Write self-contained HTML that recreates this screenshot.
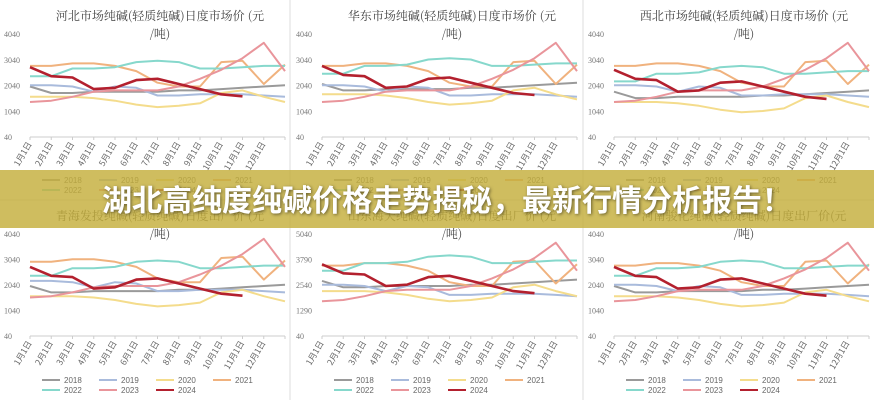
<!DOCTYPE html><html><head><meta charset="utf-8"><style>
body{margin:0;background:#fff;width:874px;height:400px;overflow:hidden;position:relative;font-family:"Liberation Sans","Noto Sans CJK SC",sans-serif}
svg{position:absolute;left:0;top:0}
#ban{position:absolute;left:0;top:170px;width:874px;height:58px;background:rgba(196,174,60,0.82);}
#bt{position:absolute;left:0;top:176px;width:874px;text-align:center;color:#fff;font-size:30px;font-weight:bold;font-family:"Noto Sans CJK SC",sans-serif;text-shadow:1px 1px 3px rgba(0,0,0,.5);letter-spacing:0px;padding-left:20px;box-sizing:border-box}
</style></head><body>
<svg id="s" width="874" height="400" xmlns="http://www.w3.org/2000/svg"></svg>
<div id="ban"></div><div id="bt">湖北高纯度纯碱价格走势揭秘，最新行情分析报告！</div>
<script>
var S=document.getElementById('s'),h='';
var titles=[["河北市场纯碱(轻质纯碱)日度市场价 (元","/吨)"],["华东市场纯碱(轻质纯碱)日度市场价 (元","/吨)"],["西北市场纯碱(轻质纯碱)日度市场价 (元","/吨)"],["青海发投纯碱(轻质纯碱)日度出厂价 (元","/吨)"],["山东海天纯碱(轻质纯碱)日度出厂价 (元","/吨)"],["河南骏化纯碱(轻质纯碱)日度出厂价(元","/吨)"]];
var C={'2018':'#9a9a9a','2019':'#a9bbdc','2020':'#f4dc8c','2021':'#f0b27e','2022':'#86d8cc','2023':'#e9959b','2024':'#b3202e'};
var D={
'2018':[2000,1750,1750,1800,1800,1800,1800,1850,1850,1900,1950,2000,2050],
'2019':[2050,2050,2000,1800,2000,1950,1650,1650,1700,1700,1700,1650,1600],
'2020':[1600,1600,1600,1550,1450,1300,1200,1250,1350,1750,1850,1600,1400],
'2021':[2800,2800,2900,2900,2800,2600,2150,2000,2000,2950,3000,2100,2850],
'2022':[2400,2400,2700,2700,2750,2950,3000,2950,2700,2700,2750,2800,2800],
'2023':[1400,1450,1600,1800,1850,1850,1850,2000,2300,2650,3100,3700,2600],
'2024':[2750,2400,2350,1900,1950,2250,2300,2100,1900,1700,1620,null,null]};
var vary=[[0,0],[0,100],[0,-200],[150,0],[0,200],[0,0]];
for(var p=0;p<6;p++){
 var ox=(p%3)*292, row=Math.floor(p/3), oy=row*200;
 var yt=34+oy, yb=137+oy+(row?-1:0), L=ox+30,R=ox+285;
 function Y(v){return yb-(v-40)/4000*(yb-yt);}
 h+='<text x="'+(ox+160)+'" y="'+(oy+20)+'" font-size="12" fill="#444" text-anchor="middle" font-family="Noto Serif CJK SC,serif">'+titles[p][0]+'</text>';
 h+='<text x="'+(ox+160)+'" y="'+(oy+38)+'" font-size="12" fill="#444" text-anchor="middle" font-family="Noto Serif CJK SC,serif">'+titles[p][1]+'</text>';
 var labs=p==4?['5040','3790','2540','1290','40']:['4040','3040','2040','1040','40'];
 for(var i=0;i<5;i++){h+='<text x="'+(ox+4)+'" y="'+(Y(4040-i*1000)+3)+'" font-size="8" fill="#777" font-family="Liberation Serif,serif">'+labs[i]+'</text>';}
 h+='<line x1="'+L+'" y1="'+yb+'" x2="'+R+'" y2="'+yb+'" stroke="#ccc"/>';
 for(var m=0;m<13;m++){var x=L+m*(R-L)/12;h+='<line x1="'+x+'" y1="'+yb+'" x2="'+x+'" y2="'+(yb+3)+'" stroke="#ccc"/>';
  if(m<12)h+='<text transform="translate('+(x+2)+','+(yb+7)+') rotate(-60)" font-size="8.5" fill="#666" text-anchor="end" font-family="Noto Sans CJK SC,sans-serif">'+(m+1)+'月1日</text>';}
 var keys=['2018','2019','2020','2021','2022','2023','2024'];
 keys.forEach(function(k,ki){var a=D[k],pts=[];for(var m=0;m<13;m++){if(a[m]==null)continue;var v=a[m]+(ki%2?vary[p][0]:vary[p][1])*(ki<6?1:0.5);pts.push((L+m*(R-L)/12).toFixed(1)+','+Y(v).toFixed(1));}
  h+='<polyline points="'+pts.join(' ')+'" fill="none" stroke="'+C[k]+'" stroke-width="'+(k=='2024'?2.6:2)+'" stroke-linejoin="round"/>';});
 var ly=oy+180;
 keys.forEach(function(k,i){var lx=ox+42+(i%4)*57,yy=ly+Math.floor(i/4)*10;h+='<line x1="'+lx+'" y1="'+yy+'" x2="'+(lx+18)+'" y2="'+yy+'" stroke="'+C[k]+'" stroke-width="2"/><text x="'+(lx+22)+'" y="'+(yy+3)+'" font-size="8" fill="#666">'+k+'</text>';});
}
h+='<line x1="290" y1="0" x2="290" y2="400" stroke="#ddd"/><line x1="583" y1="0" x2="583" y2="400" stroke="#ddd"/><line x1="0" y1="200" x2="874" y2="200" stroke="#ddd"/>';
S.innerHTML=h;
</script></body></html>
